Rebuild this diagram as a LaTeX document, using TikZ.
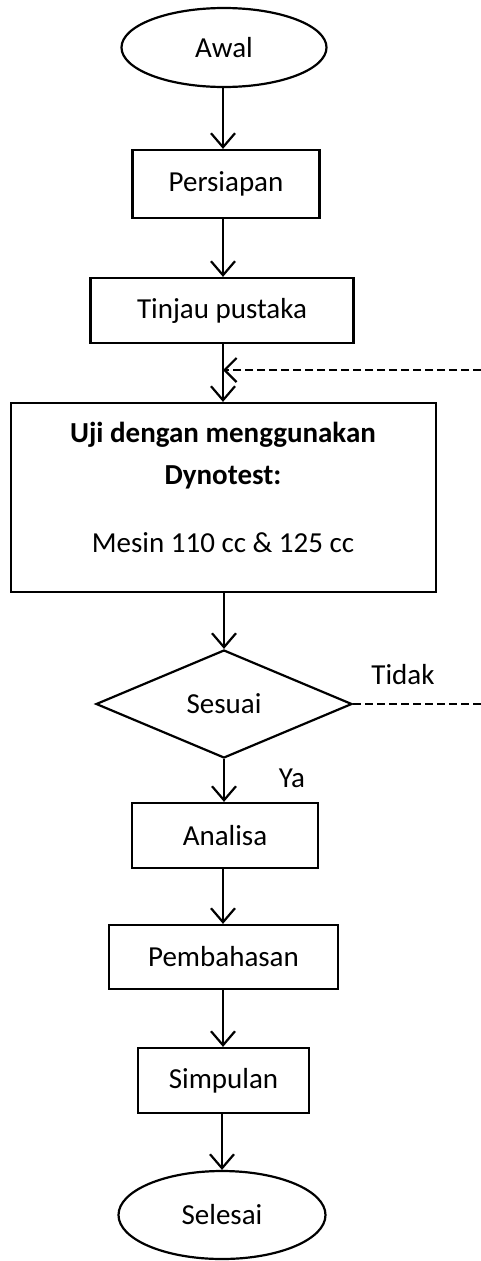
\documentclass[tikz,border=0pt]{standalone}
\usepackage{fontspec}
\setmainfont{Carlito}
\usetikzlibrary{shapes.geometric,arrows.meta,calc}
\begin{document}
\begin{tikzpicture}[x=1pt,y=-1pt,
  every node/.style={font=\fontsize{29}{42}\selectfont, inner sep=0pt},
  proc/.style={draw, line width=2.2pt, rectangle},
  term/.style={draw, line width=2.2pt, ellipse},
  decide/.style={draw, line width=2.2pt, diamond},
  flow/.style={line width=2.2pt, -{Straight Barb[length=14pt,width=24pt,line width=2.2pt]}},
  back/.style={line width=1.8pt, dash pattern=on 8pt off 4pt},
  backarrow/.style={back, -{Straight Barb[length=12pt,width=24pt,line width=2.2pt]}}]
\useasboundingbox (0,0) rectangle (481,1261);
\fill[white] (0,0) rectangle (481,1261);

\node[term, minimum width=205, minimum height=79] (awal) at (224,47.5) {Awal};
\node[proc, minimum width=187, minimum height=68] (persiapan) at (226,184) {Persiapan};
\node[proc, minimum width=263, minimum height=65] (tinjau) at (222,310.5) {Tinjau pustaka};
\node[proc, minimum width=425, minimum height=189] (uji) at (223.5,497.5) {};
\node[anchor=base, font=\fontsize{29}{42}\selectfont\bfseries] (uji1) at (223,442) {Uji dengan menggunakan};
\node[anchor=base, font=\fontsize{29}{42}\selectfont\bfseries] (uji2) at (223,484) {Dynotest:};
\node[anchor=base] (uji3) at (223,552) {Mesin 110 cc \& 125 cc};
\node[decide, minimum width=256, minimum height=108] (sesuai) at (224,704) {Sesuai};
\node[proc, minimum width=186, minimum height=65] (analisa) at (225,835.5) {Analisa};
\node[proc, minimum width=229, minimum height=64] (pembahasan) at (223.5,957) {Pembahasan};
\node[proc, minimum width=171, minimum height=65] (simpulan) at (223.5,1080.5) {Simpulan};
\node[term, minimum width=207, minimum height=88] (selesai) at (222,1215) {Selesai};

\node (tidak) at (403,675) {Tidak};
\node (ya) at (292,778) {Ya};

\coordinate (r1) at (481,370);
\coordinate (r2) at (481,704);

\draw[flow] (awal.south -| 223,0) -- (223,0 |- persiapan.north);
\draw[flow] (persiapan.south -| 223,0) -- (223,0 |- tinjau.north);
\draw[flow] (tinjau.south -| 223,0) -- (223,0 |- uji.north);
\draw[flow] (uji.south -| 224,0) -- (sesuai.north);
\draw[flow] (sesuai.south) -- (sesuai.south |- analisa.north);
\draw[flow] (analisa.south -| 223,0) -- (223,0 |- pembahasan.north);
\draw[flow] (pembahasan.south -| 223,0) -- (223,0 |- simpulan.north);
\draw[flow] (simpulan.south -| 222,0) -- (selesai.north);

\draw[backarrow] (r1) -- (r1 -| 223,0);
\draw[back] (sesuai.east) -- (r2);
\end{tikzpicture}
\end{document}
